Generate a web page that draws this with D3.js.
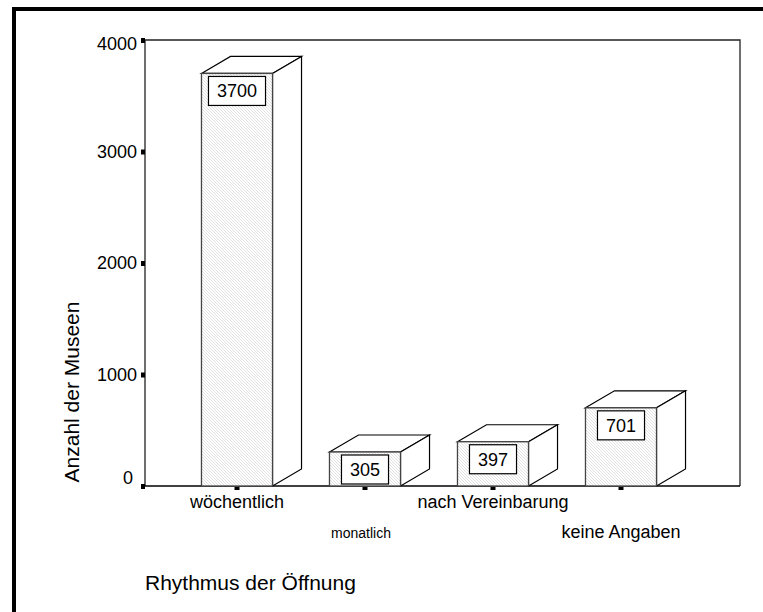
<!DOCTYPE html>
<html>
<head>
<meta charset="utf-8">
<script src="https://cdn.jsdelivr.net/npm/d3@7"></script>
<style>
  body { margin: 0; background: #fff; }
  text { font-family: Arial, "Liberation Sans", sans-serif; fill: #000; }
</style>
</head>
<body>
<div id="chart"></div>
<script>
// data
const categories = ["wöchentlich", "monatlich", "nach Vereinbarung", "keine Angaben"];
const counts = [3700, 305, 397, 701];
const yTicks = [0, 1000, 2000, 3000, 4000];

const width = 763;
const height = 612;

const svg = d3.select("#chart").append("svg")
    .attr("width", width)
    .attr("height", height);

// hatch for the front faces
const defs = svg.append("defs");
const pat = defs.append("pattern")
    .attr("id", "hatch")
    .attr("patternUnits", "userSpaceOnUse")
    .attr("width", 3)
    .attr("height", 3);
pat.append("rect").attr("width", 3).attr("height", 3).attr("fill", "#fff");
pat.append("path")
    .attr("d", "M-1,-1 L4,4 M-1,2 L1,4 M2,-1 L4,1")
    .attr("stroke", "#cdcdcd")
    .attr("stroke-width", 0.6);

// outer frame (top + left only)
svg.append("rect").attr("x", 12).attr("y", 7).attr("width", width - 12).attr("height", 4).attr("fill", "#000");
svg.append("rect").attr("x", 12).attr("y", 7).attr("width", 4).attr("height", height - 7).attr("fill", "#000");

const plotLeft = 145, plotRight = 740, plotTop = 40, plotBottom = 486;

const x = d3.scaleBand()
    .domain(categories)
    .range([173, 685])
    .paddingInner(0.445)
    .paddingOuter(0.2225);

const y = d3.scaleLinear()
    .domain([0, 4000])
    .range([plotBottom, plotTop]);

// plot box
svg.append("path")
    .attr("d", `M${plotLeft},${plotBottom} V${plotTop} H${plotRight} V${plotBottom}`)
    .attr("fill", "none")
    .attr("stroke", "#222")
    .attr("stroke-width", 1.3);
svg.append("line")
    .attr("x1", plotLeft - 3).attr("x2", plotRight)
    .attr("y1", plotBottom).attr("y2", plotBottom)
    .attr("stroke", "#000").attr("stroke-width", 1.3);

// y axis
const yAxis = svg.append("g")
    .attr("transform", `translate(${plotLeft},0)`)
    .call(d3.axisLeft(y).tickValues(yTicks).tickSize(0).tickPadding(8).tickFormat(d3.format("d")));
yAxis.select(".domain").remove();
yAxis.selectAll("text")
    .style("font-size", "18px")
    .attr("dy", d => d === 0 ? "-0.15em" : d === 4000 ? "0.5em" : "0.32em")
    .attr("dx", d => d === 0 ? -4 : 0);
yAxis.selectAll(".tick").append("rect")
    .attr("x", -4).attr("y", -2.5).attr("width", 4).attr("height", 5)
    .attr("fill", "#000");

// x ticks + labels (staggered)
const xg = svg.append("g");
xg.selectAll("rect")
    .data(categories)
    .join("rect")
    .attr("x", d => x(d) + x.bandwidth() / 2 - 2.5)
    .attr("y", plotBottom + 1)
    .attr("width", 5).attr("height", 3)
    .attr("fill", "#000");
xg.selectAll("text")
    .data(categories)
    .join("text")
    .attr("x", d => x(d) + x.bandwidth() / 2 + (d === "monatlich" ? -4 : 0))
    .attr("y", (d, i) => i % 2 === 0 ? 508 : 538)
    .attr("text-anchor", "middle")
    .style("font-size", d => d === "monatlich" ? "14px" : "18px")
    .text(d => d);

// 3d bars
const dx = 29, dy = 17;
const bars = svg.append("g").selectAll("g")
    .data(categories.map((c, i) => ({cat: c, value: counts[i]})))
    .join("g");

bars.append("path") // top
    .attr("d", d => {
        const x0 = x(d.cat), x1 = x0 + x.bandwidth(), yt = y(d.value);
        return `M${x0},${yt} L${x0 + dx},${yt - dy} L${x1 + dx},${yt - dy} L${x1},${yt} Z`;
    })
    .attr("fill", "#fff").attr("stroke", "#000").attr("stroke-width", 1.2);

bars.append("path") // side
    .attr("d", d => {
        const x1 = x(d.cat) + x.bandwidth(), yt = y(d.value);
        return `M${x1},${yt} L${x1 + dx},${yt - dy} L${x1 + dx},${plotBottom - dy} L${x1},${plotBottom} Z`;
    })
    .attr("fill", "#fff").attr("stroke", "#000").attr("stroke-width", 1.2);

bars.append("rect") // front
    .attr("x", d => x(d.cat))
    .attr("y", d => y(d.value))
    .attr("width", x.bandwidth())
    .attr("height", d => plotBottom - y(d.value))
    .attr("fill", "url(#hatch)")
    .attr("stroke", "#444").attr("stroke-width", 1.3);

// value boxes
bars.each(function(d) {
    const g = d3.select(this);
    const cx = x(d.cat) + x.bandwidth() / 2;
    const top = y(d.value) + 3;
    const box = g.append("rect");
    const t = g.append("text")
        .attr("x", cx)
        .attr("y", top + 21)
        .attr("text-anchor", "middle")
        .style("font-size", "18px")
        .text(d.value);
    const w = t.node().getComputedTextLength() + 17;
    box.attr("x", cx - w / 2).attr("y", top)
        .attr("width", w).attr("height", 29)
        .attr("fill", "#fff").attr("stroke", "#000").attr("stroke-width", 1.2);
});

// axis titles
svg.append("text")
    .attr("transform", "translate(79,392) rotate(-90)")
    .attr("text-anchor", "middle")
    .style("font-size", "21px")
    .text("Anzahl der Museen");

svg.append("text")
    .attr("x", 145)
    .attr("y", 590)
    .style("font-size", "21px")
    .text("Rhythmus der Öffnung");
</script>
</body>
</html>
